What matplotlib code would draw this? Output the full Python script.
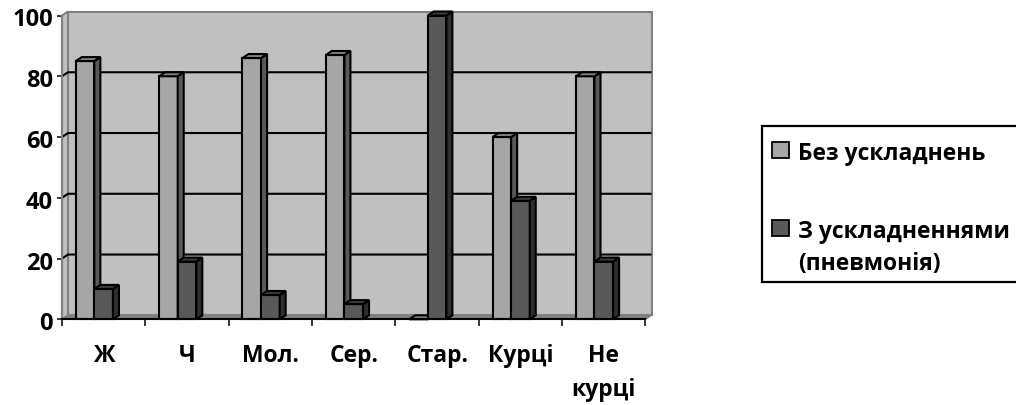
import matplotlib
matplotlib.use('Agg')
import matplotlib.pyplot as plt
from matplotlib.patches import Polygon, Rectangle
from matplotlib.transforms import ScaledTranslation

categories = ['Ж', 'Ч', 'Мол.', 'Сер.', 'Стар.', 'Курці', 'Не\nкурці']
no_compl = [85, 80, 86, 87, 0, 60, 80]
with_compl = [10, 19, 8, 5, 100, 39, 19]
series_names = ['Без ускладнень', 'З ускладненнями\n(пневмонія)']
y_ticks = [0, 20, 40, 60, 80, 100]

W, H = 1016, 405
plt.rcParams['font.family'] = ['Open Sans', 'DejaVu Sans']
plt.rcParams['font.weight'] = 'bold'

fig = plt.figure(figsize=(W / 100, H / 100), dpi=100)
# вісі в пікселях референсу
left, right, top, bottom = 62, 645.5, 15.5, 319.3
ax = fig.add_axes([left / W, 1 - bottom / H, (right - left) / W, (bottom - top) / H])
ax.set_xlim(0, 7)
ax.set_ylim(0, 100)
ax.patch.set_visible(False)

# глибина псевдо-3D у одиницях даних
dx = 6 / ((right - left) / 7)
dy = 4 / ((bottom - top) / 100)
bar_w = 18.6 / ((right - left) / 7)
offset = 0.165


def poly(points, face, edge='black', lw=1.5, z=3):
    ax.add_patch(Polygon(points, closed=True, facecolor=face, edgecolor=edge,
                         linewidth=lw, zorder=z, clip_on=False, joinstyle='miter'))


def bar3d(x, val, front, side, cap, z):
    poly([(x, 0), (x + bar_w, 0), (x + bar_w, val), (x, val)], front, z=z)
    poly([(x + bar_w, 0), (x + bar_w + dx, dy), (x + bar_w + dx, val + dy), (x + bar_w, val)], side, z=z)
    poly([(x, val), (x + bar_w, val), (x + bar_w + dx, val + dy), (x + dx, val + dy)], cap, z=z)


# стіни і підлога
wall = '#c0c0c0'
frame = '#808080'
poly([(dx, dy), (7 + dx, dy), (7 + dx, 100 + dy), (dx, 100 + dy)], wall, frame, 1.5, 1)
poly([(0, 0), (dx, dy), (dx, 100 + dy), (0, 100)], wall, frame, 1.5, 1)
poly([(0, 0), (7, 0), (7 + dx, dy), (dx, dy)], frame, frame, 1, 1)

for v in y_ticks[1:-1]:
    ax.plot([0, dx, 7 + dx], [v, v + dy, v + dy], color='black', lw=1.5, zorder=2,
            clip_on=False, solid_capstyle='butt')

for i in range(len(categories)):
    x0 = i + offset
    bar3d(x0, no_compl[i], '#a6a6a6', '#595959', '#7f7f7f', 3 + i * 0.01)
    bar3d(x0 + bar_w, with_compl[i], '#595959', '#2e2e2e', '#3c3c3c', 3.005 + i * 0.01)

for s in ['top', 'right']:
    ax.spines[s].set_visible(False)
ax.spines['left'].set_color(frame)
ax.spines['left'].set_linewidth(1.5)
ax.spines['bottom'].set_color('black')
ax.spines['bottom'].set_linewidth(1.5)
ax.spines['bottom'].set_zorder(6)

ax.set_yticks(y_ticks)
ax.set_yticklabels([str(v) for v in y_ticks], fontsize=17, fontweight='bold')
ax.tick_params(axis='y', length=3.6, width=1.1, pad=3)
shift = ScaledTranslation(0, -2 / 100, fig.dpi_scale_trans)
for lab in ax.get_yticklabels():
    lab.set_transform(lab.get_transform() + shift)
ax.set_xticks(range(8))
ax.set_xticklabels([''] * 8)
ax.tick_params(axis='x', which='major', length=5, width=1.1)
ax.set_xticks([i + 0.5 for i in range(7)], minor=True)
ax.set_xticklabels(categories, minor=True, fontsize=16.5, fontweight='bold', linespacing=1.55)
ax.tick_params(axis='x', which='minor', length=0, pad=18)

# легенда
fig.add_artist(Rectangle((762 / W, 1 - 282 / H), 300 / W, 156 / H, transform=fig.transFigure,
                         facecolor='white', edgecolor='black', linewidth=1.6))
for name, color, y_sw, y_txt in [(series_names[0], '#a6a6a6', 150, 154),
                                 (series_names[1], '#595959', 227.5, 248)]:
    fig.add_artist(Rectangle((772 / W, 1 - (y_sw + 8) / H), 17 / W, 16 / H, transform=fig.transFigure,
                             facecolor=color, edgecolor='black', linewidth=1.3))
    fig.text(798 / W, 1 - y_txt / H, name, fontsize=16.5, fontweight='bold', va='center', ha='left',
             linespacing=1.47)

fig.savefig('out.png', dpi=100)
